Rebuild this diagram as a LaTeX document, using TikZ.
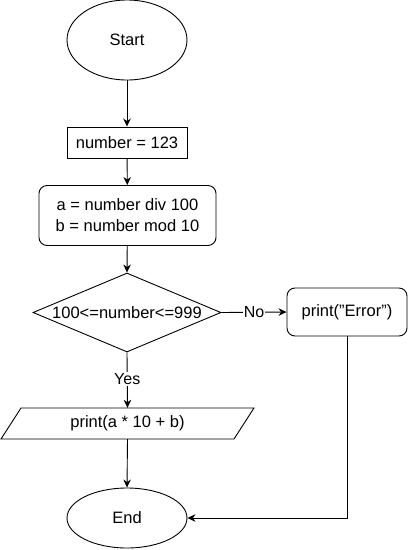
\documentclass[tikz,border=0pt]{standalone}
\usepackage{fontspec}
\setmainfont[Ligatures={Common}]{Liberation Sans}
\usetikzlibrary{shapes.geometric,arrows.meta}
\begin{document}
\begin{tikzpicture}[x=1pt,y=-1pt,
  every node/.style={font=\fontsize{16.5}{21}\selectfont, inner sep=0pt},
  line/.style={draw=black, line width=0.9pt},
  arr/.style={line, -{Stealth[length=8pt,width=7.5pt,inset=2.5pt]}},
  term/.style={ellipse, line, minimum width=120pt},
  proc/.style={rectangle, line, minimum width=120pt, minimum height=31pt},
  rproc/.style={rectangle, rounded corners=8pt, line, align=center},
  lbl/.style={fill=white, font=\fontsize{16}{19}\selectfont, inner sep=1pt}]
\useasboundingbox (0,0) rectangle (408,550);
\node[term, minimum height=80pt] (start) at (127,40) {Start};
\node[proc] (num) at (127,142.5) {number = 123};
\node[rproc, minimum width=177pt, minimum height=60pt] (ab) at (127.5,215.5) {a = number div 100\\b = number mod 10};
\node[diamond, line, minimum width=188pt, minimum height=79pt] (dec) at (127,312.5) {};
\node at (dec.center) {100<=number<=999};
\node[rproc, minimum width=120pt, minimum height=48pt] (err) at (347,312) {print(\symbol{34}Error\symbol{34})};
\node[minimum width=213pt, minimum height=31pt] (out) at (127.5,423.5) {print(a * 10 + b)};
\draw[line] (1,439) -- (21,408) -- (254,408) -- (234,439) -- cycle;
\node[term, minimum height=60pt] (end) at (127,518) {End};
\coordinate (corner) at (err.south |- end.east);
\draw[arr] (start) -- (num);
\draw[arr] (num) -- (ab);
\draw[arr] (ab) -- (dec.north);
\draw[arr] (dec.east) -- node[lbl] {No} (err.west);
\draw[arr] (dec.south) -- node[lbl, pos=0.48] {Yes} (out.north);
\draw[arr] (out.south) -- (end.north);
\draw[arr] (err.south) -- (corner) -- (end.east);
\end{tikzpicture}
\end{document}
